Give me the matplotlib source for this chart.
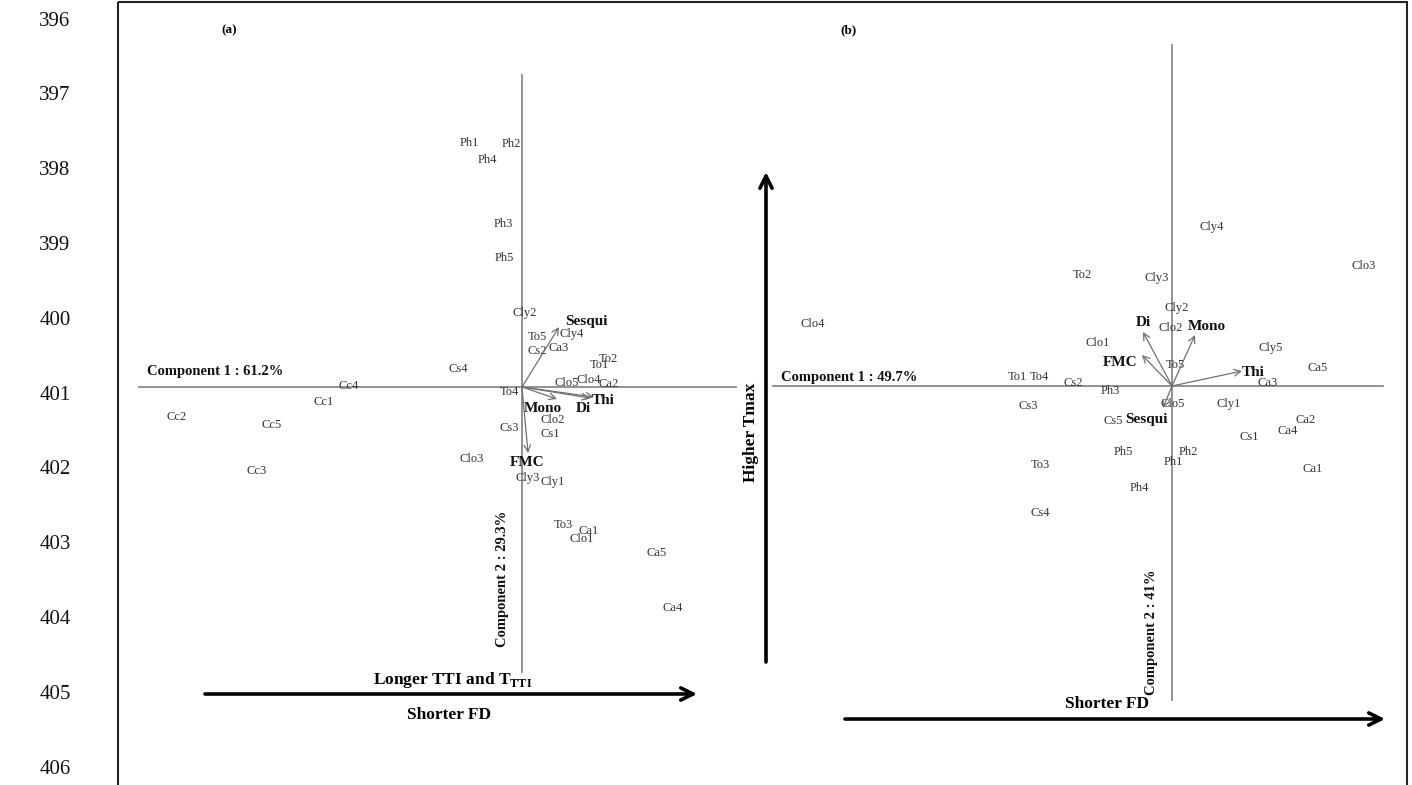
import matplotlib
matplotlib.use('Agg')
from matplotlib import pyplot as plt
from matplotlib.patches import Rectangle

plt.rcParams['font.family'] = ['Liberation Serif', 'DejaVu Serif']
plt.rcParams['mathtext.fontset'] = 'custom'
plt.rcParams['mathtext.rm'] = 'Liberation Serif'
plt.rcParams['mathtext.bf'] = 'Liberation Serif:bold'

# panel (a) sample scores
a_names = ['Ph1', 'Ph2', 'Ph4', 'Ph3', 'Ph5', 'Cly2', 'Cly4', 'To5', 'Cs2', 'Ca3',
           'To2', 'To1', 'Cs4', 'Clo5', 'Clo4', 'Ca2', 'To4', 'Clo2', 'Cs3', 'Cs1',
           'Clo3', 'Cly3', 'Cly1', 'To3', 'Ca1', 'Clo1', 'Ca5', 'Ca4',
           'Cc4', 'Cc1', 'Cc2', 'Cc5', 'Cc3']
a_x = [-1.06, -0.22, -0.70, -0.38, -0.36, 0.06, 1.00, 0.30, 0.30, 0.74,
       1.72, 1.54, -1.28, 0.90, 1.34, 1.74, -0.26, 0.62, -0.26, 0.56,
       -1.00, 0.12, 0.62, 0.82, 1.34, 1.20, 2.70, 3.02,
       -3.46, -3.96, -6.90, -5.00, -5.30]
a_y = [4.88, 4.86, 4.54, 3.26, 2.58, 1.48, 1.06, 1.00, 0.72, 0.78,
       0.56, 0.44, 0.36, 0.08, 0.14, 0.06, -0.10, -0.66, -0.82, -0.94,
       -1.44, -1.82, -1.90, -2.76, -2.88, -3.04, -3.32, -4.42,
       0.02, -0.30, -0.60, -0.76, -1.68]

# panel (a) variable loadings
a_vars = ['Sesqui', 'Mono', 'Di', 'Thi', 'FMC']
a_vx = [0.74, 0.70, 1.36, 1.44, 0.12]
a_vy = [1.20, -0.24, -0.22, -0.20, -1.32]
a_lx = [1.28, 0.42, 1.22, 1.62, 0.10]
a_ly = [1.30, -0.42, -0.42, -0.28, -1.52]

# panel (b) sample scores
b_names = ['Cly4', 'Clo3', 'To2', 'Cly3', 'Cly2', 'Clo2', 'Clo1', 'Cly5', 'To5', 'Ca5',
           'Ca3', 'Cs2', 'Ph3', 'Clo5', 'Cly1', 'Cs5', 'Ca2', 'Ca4', 'Cs1', 'Ph5',
           'Ph2', 'Ph1', 'Ca1', 'Ph4', 'Clo4', 'To1', 'To4', 'Cs3', 'To3', 'Cs4']
b_x = [0.80, 3.84, -1.80, -0.30, 0.10, -0.02, -1.48, 1.98, 0.06, 2.92,
       1.92, -1.98, -1.24, 0.02, 1.14, -1.18, 2.68, 2.32, 1.54, -0.98,
       0.32, 0.02, 2.82, -0.66, -7.18, -3.10, -2.66, -2.88, -2.64, -2.64]
b_y = [3.18, 2.40, 2.22, 2.16, 1.56, 1.16, 0.86, 0.76, 0.42, 0.36,
       0.06, 0.06, -0.10, -0.36, -0.36, -0.70, -0.68, -0.90, -1.02, -1.32,
       -1.32, -1.52, -1.66, -2.04, 1.24, 0.18, 0.18, -0.40, -1.58, -2.54]

# panel (b) variable loadings
b_vars = ['Di', 'FMC', 'Mono', 'Thi', 'Sesqui']
b_vx = [-0.58, -0.60, 0.46, 1.40, -0.18]
b_vy = [1.08, 0.62, 1.02, 0.30, -0.44]
b_lx = [-0.58, -1.04, 0.70, 1.62, -0.52]
b_ly = [1.26, 0.48, 1.18, 0.26, -0.66]

line_numbers = list(range(396, 407))

W, H = 1412, 785
fig = plt.figure(figsize=(W / 100, H / 100), dpi=100)
fig.patch.set_facecolor('white')

# overlay in pixel units for frame, line numbers and interpretation arrows
ov = fig.add_axes([0, 0, 1, 1])
ov.set_xlim(0, W)
ov.set_ylim(H, 0)
ov.axis('off')
ov.add_patch(Rectangle((118, 2), 1289, 800, fill=False, ec='#222222', lw=1.5))
for i, n in enumerate(line_numbers):
    ov.text(55, 21 + i * 74.8, str(n), ha='center', va='center', fontsize=15, color='#111111')


def panel(left_px, right_px, ox, oy, names, xs, ys, vars_, vx, vy, lx, ly,
          hline, vline, c1, c1pos, c2, c2pos):
    scale = 50.0
    ax = fig.add_axes([left_px / W, 0, (right_px - left_px) / W, 1])
    ax.set_xlim((left_px - ox) / scale, (right_px - ox) / scale)
    ax.set_ylim((oy - H) / scale, oy / scale)
    ax.axis('off')
    ax.patch.set_alpha(0)
    ax.plot(hline, [0, 0], color='#8a8a8a', lw=1.3)
    ax.plot([0, 0], vline, color='#8a8a8a', lw=1.3)
    for n, x, y in zip(names, xs, ys):
        ax.text(x, y, n, ha='center', va='center', fontsize=9, color='#333333')
    for n, x, y, tx, ty in zip(vars_, vx, vy, lx, ly):
        ax.annotate('', xy=(x, y), xytext=(0, 0),
                    arrowprops=dict(arrowstyle='->', color='#707070', lw=0.9,
                                    mutation_scale=12, shrinkA=0, shrinkB=0))
        ax.text(tx, ty, n, ha='center', va='center', fontsize=11,
                fontweight='bold', color='#111111')
    ax.text(c1pos[0], c1pos[1], c1, ha='left', va='center', fontsize=10.5,
            fontweight='bold', color='#111111')
    ax.text(c2pos[0], c2pos[1], c2, ha='center', va='center', fontsize=10.5,
            fontweight='bold', color='#111111', rotation=90)
    return ax


panel(118, 760, 522, 387, a_names, a_x, a_y, a_vars, a_vx, a_vy, a_lx, a_ly,
      [-7.66, 4.28], [-5.70, 6.24], 'Component 1 : 61.2%', (-7.5, 0.30),
      'Component 2 : 29.3%', (-0.38, -3.84))
panel(760, 1412, 1172, 386, b_names, b_x, b_y, b_vars, b_vx, b_vy, b_lx, b_ly,
      [-7.98, 4.22], [-6.28, 6.82], 'Component 1 : 49.7%', (-7.82, 0.18),
      'Component 2 : 41%', (-0.40, -4.92))

big = dict(arrowstyle='->', color='black', lw=2.6, mutation_scale=22, shrinkA=0, shrinkB=0)
ov.annotate('', xy=(697, 694), xytext=(205, 694), arrowprops=big)
ov.text(453, 680, r'Longer TTI and T$_{\mathbf{TTI}}$', ha='center', va='center',
        fontsize=12.5, fontweight='bold')
ov.text(449, 715, 'Shorter FD', ha='center', va='center', fontsize=12.5, fontweight='bold')
ov.annotate('', xy=(1385, 719), xytext=(845, 719), arrowprops=big)
ov.text(1107, 704, 'Shorter FD', ha='center', va='center', fontsize=12.5, fontweight='bold')
ov.annotate('', xy=(766, 172), xytext=(766, 662), arrowprops=big)
ov.text(751, 432, 'Higher Tmax', ha='center', va='center', fontsize=12.5,
        fontweight='bold', rotation=90)

fig.text(229 / W, 1 - 30 / H, '(a)', ha='center', va='center', fontsize=9.5, fontweight='bold')
fig.text(848 / W, 1 - 30 / H, '(b)', ha='center', va='center', fontsize=9.5, fontweight='bold')

fig.savefig('out.png', dpi=100)
